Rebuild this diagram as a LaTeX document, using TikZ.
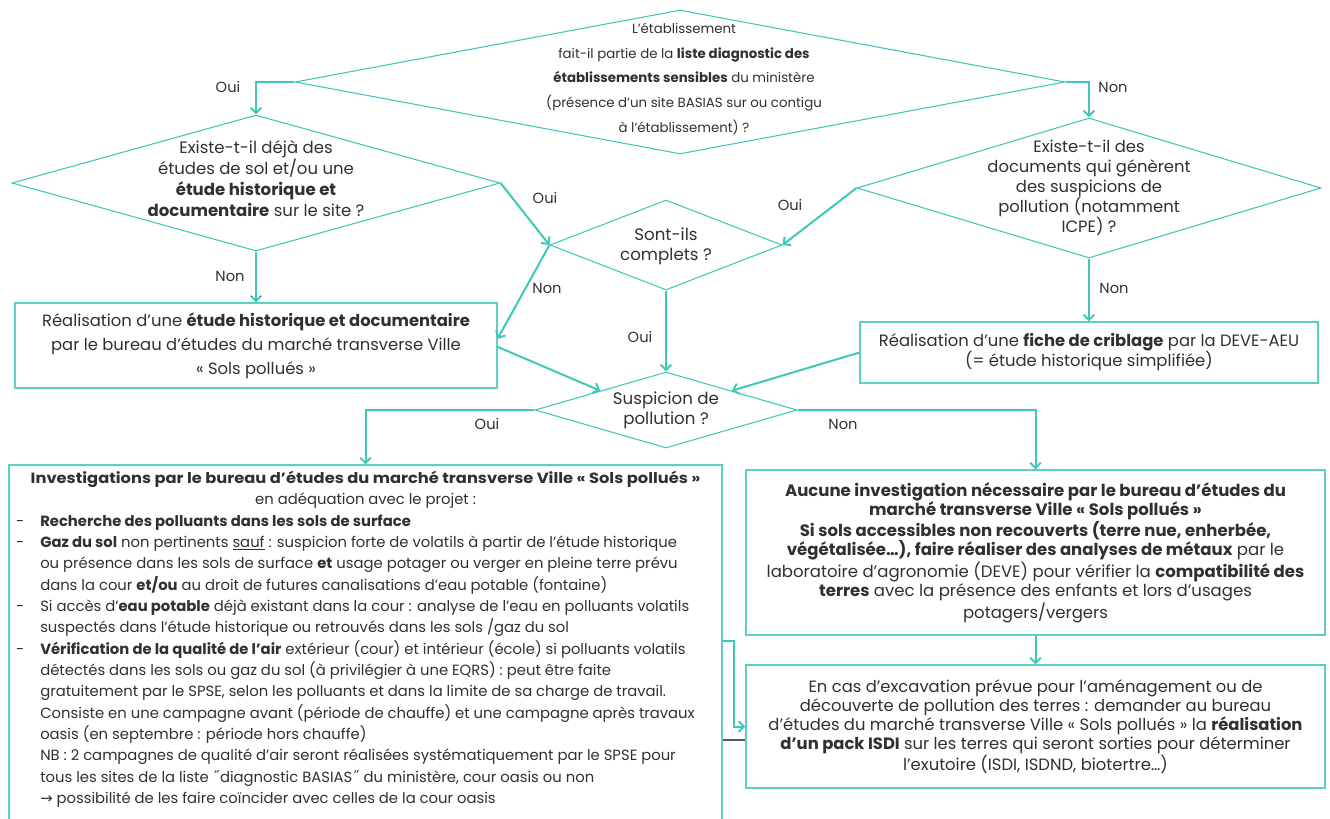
\documentclass[tikz,border=0pt]{standalone}
\usepackage{fontspec}
\setmainfont{Poppins}
\newfontfamily\symfont{DejaVu Sans}
\usetikzlibrary{positioning,arrows.meta,shapes.geometric,calc}

\definecolor{lagoon}{RGB}{64,200,182}
\definecolor{ink}{RGB}{48,48,48}
\newcommand{\dsh}{\makebox[0pt][r]{-\hspace{12pt}}}

\tikzset{
  decision/.style={diamond, draw=lagoon, line width=0.8pt, inner sep=0pt},
  stepbox/.style={draw=lagoon!85, line width=0.8pt, inner sep=0pt},
  qtext/.style={text=ink, align=center, inner sep=0pt},
  flow/.style={draw=lagoon, line width=1.5pt, -{Straight Barb[length=4pt,width=8pt]}},
  yesno/.style={text=ink, font=\fontsize{11}{13}\selectfont},
}

\begin{document}
\begin{tikzpicture}[x=0.75pt, y=-0.75pt]
\useasboundingbox (0,0) rectangle (1330,818);
% questions
\node[decision, minimum width=577.5pt, minimum height=108pt] (etab) at (680,82) {};
\node[qtext, font=\fontsize{10}{18.4}\selectfont] (etabt) at (684,79)
  {L'établissement\\fait-il partie de la \textbf{liste diagnostic des}\\\textbf{établissements sensibles} du ministère\\(présence d'un site BASIAS sur ou contigu\\à l'établissement) ?};
\node[decision, minimum width=366pt, minimum height=102pt] (etudes) at (256,183) {};
\node[qtext, font=\fontsize{12.4}{15.8}\selectfont] (etudest) at (256,179)
  {Existe-t-il déjà des\\études de sol et/ou une\\\textbf{étude historique et}\\\textbf{documentaire} sur le site ?};
\node[decision, minimum width=348pt, minimum height=105pt] (docs) at (1089,188) {};
\node[qtext, font=\fontsize{12.3}{15}\selectfont] (docst) at (1089,188)
  {Existe-t-il des\\documents qui génèrent\\des suspicions de\\pollution (notamment\\ICPE) ?};
\node[decision, minimum width=174pt, minimum height=67.5pt] (compl) at (666,245) {};
\node[qtext, font=\fontsize{12.5}{15}\selectfont] (complt) at (666,246) {Sont-ils\\complets ?};
\node[decision, minimum width=196.5pt, minimum height=57pt] (susp) at (666,410) {};
\node[qtext, font=\fontsize{12.5}{15}\selectfont] (suspt) at (666,410) {Suspicion de\\pollution ?};
% boxes
\node[stepbox, qtext, minimum width=361.5pt, minimum height=63.75pt, font=\fontsize{12.3}{18}\selectfont] (histo) at (256,345.5)
  {Réalisation d'une \textbf{étude historique et documentaire}\\par le bureau d'études du marché transverse Ville\\« Sols pollués »};
\node[stepbox, qtext, minimum width=343.5pt, minimum height=45.75pt, font=\fontsize{12.3}{15}\selectfont] (crib) at (1089,352.5)
  {Réalisation d'une \textbf{fiche de criblage} par la DEVE-AEU\\(= étude historique simplifiée)};
\node[stepbox, minimum width=534.75pt, minimum height=273.75pt] (inv) at (365.5,647.5) {};
\node[qtext, align=left, anchor=north west, font=\fontsize{11.1}{16}\selectfont] (invt) at (40,471)
  {\makebox[488pt]{\scalebox{1.1}[1]{\textbf{Investigations par le bureau d'études du marché transverse Ville « Sols pollués »}}}\\
   \makebox[488pt]{en adéquation avec le projet :}\\
   \dsh\textbf{Recherche des polluants dans les sols de surface}\\
   \dsh\textbf{Gaz du sol} non pertinents \underline{sauf} : suspicion forte de volatils à partir de l'étude historique\\
   ou présence dans les sols de surface \textbf{et} usage potager ou verger en pleine terre prévu\\
   dans la cour \textbf{et/ou} au droit de futures canalisations d'eau potable (fontaine)\\
   \dsh Si accès d'\textbf{eau potable} déjà existant dans la cour : analyse de l'eau en polluants volatils\\
   suspectés dans l'étude historique ou retrouvés dans les sols /gaz du sol\\
   \dsh\textbf{Vérification de la qualité de l'air} extérieur (cour) et intérieur (école) si polluants volatils\\
   détectés dans les sols ou gaz du sol (à privilégier à une EQRS) : peut être faite\\
   gratuitement par le SPSE, selon les polluants et dans la limite de sa charge de travail.\\
   Consiste en une campagne avant (période de chauffe) et une campagne après travaux\\
   oasis (en septembre : période hors chauffe)\\
   NB : 2 campagnes de qualité d'air seront réalisées systématiquement par le SPSE pour\\
   tous les sites de la liste {\symfont ˝}diagnostic BASIAS{\symfont ˝} du ministère, cour oasis ou non\\
   {\symfont →} possibilité de les faire coïncider avec celles de la cour oasis};
\node[stepbox, qtext, minimum width=434.25pt, minimum height=123.75pt, font=\fontsize{12.4}{14.6}\selectfont] (nobox) at (1035.5,552.5)
  {\textbf{Aucune investigation nécessaire par le bureau d'études du}\\
   \textbf{marché transverse Ville « Sols pollués »}\\
   \textbf{Si sols accessibles non recouverts (terre nue, enherbée,}\\
   \textbf{végétalisée…), faire réaliser des analyses de métaux} par le\\
   laboratoire d'agronomie (DEVE) pour vérifier la \textbf{compatibilité des}\\
   \textbf{terres} avec la présence des enfants et lors d'usages\\
   potagers/vergers};
\node[stepbox, qtext, minimum width=434.25pt, minimum height=92.25pt, font=\fontsize{12.3}{14.3}\selectfont] (exc) at (1035.5,726.5)
  {En cas d'excavation prévue pour l'aménagement ou de\\
   découverte de pollution des terres : demander au bureau\\
   d'études du marché transverse Ville « Sols pollués » la \textbf{réalisation}\\
   \textbf{d'un pack ISDI} sur les terres qui seront sorties pour déterminer\\
   l'exutoire (ISDI, ISDND, biotertre…)};
% connectors
\draw[flow] (etab.west) -| (etudes.north);
\draw[flow] (etab.east) -| (docs.north);
\draw[flow] (etudes.east) -- (compl.west);
\draw[flow] (docs.west) -- (compl.east);
\draw[flow] (etudes.south) -- (histo.north);
\draw[flow] (docs.south) -- (crib.north);
\draw[flow] (compl.west) -- ([yshift=5pt]histo.east);
\draw[flow] (compl.south) -- (susp.north);
\draw[flow] ([yshift=-1pt]histo.east) -- (susp.north west);
\draw[flow] (crib.west) -- (susp.north east);
\draw[flow] (susp.west) -| (inv.north);
\draw[flow] (susp.east) -| (nobox.north);
\draw[flow] (nobox.south) -- (exc.north);
\draw[flow] ([yshift=5pt]inv.east) -- ++(11,0) |- (exc.west);
\coordinate (sep) at (0,740);
\draw[ink!80, line width=1pt] (inv.east |- sep) -- (exc.west |- sep);
% yes / no labels
\node[yesno] (l1) at (228,87) {Oui};
\node[yesno] (l2) at (1113,87) {Non};
\node[yesno] (l3) at (545,198) {Oui};
\node[yesno] (l4) at (790,205) {Oui};
\node[yesno] (l5) at (230,276) {Non};
\node[yesno] (l6) at (547,288) {Non};
\node[yesno] (l7) at (640,337) {Oui};
\node[yesno] (l8) at (1114,288) {Non};
\node[yesno] (l9) at (487,424) {Oui};
\node[yesno] (l10) at (843,424) {Non};
\end{tikzpicture}
\end{document}
